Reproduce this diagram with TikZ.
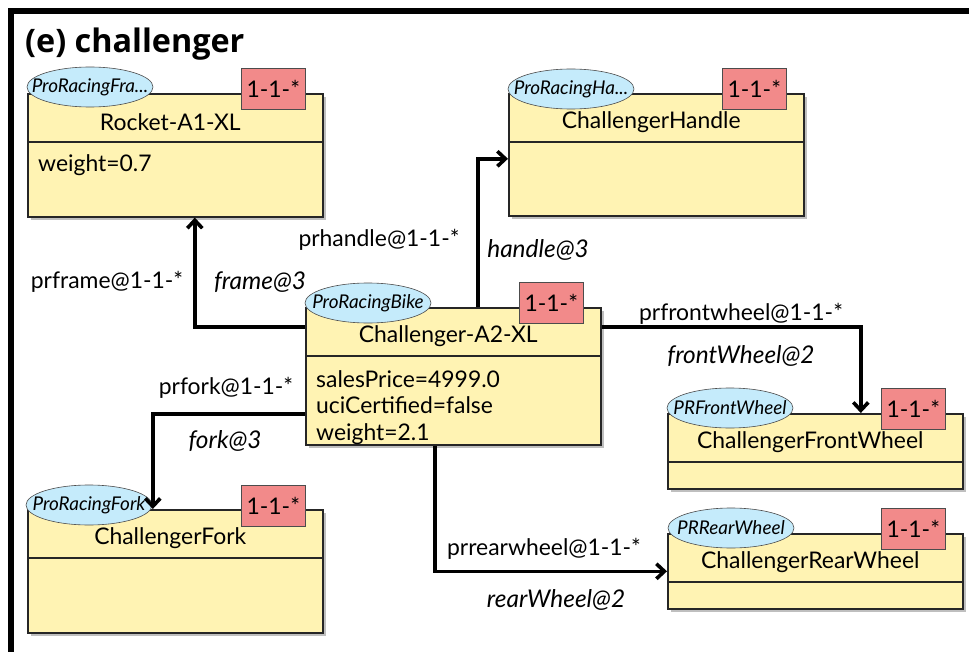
\documentclass[tikz,border=0pt]{standalone}
\usepackage{fontspec}
\setmainfont{Lato}
\newfontfamily\titlefont{Open Sans}
\usetikzlibrary{shapes.geometric, arrows.meta, positioning, calc, shadows}
\definecolor{clsfill}{HTML}{FFF3B3}
\definecolor{stereofill}{HTML}{C5EBFB}
\definecolor{badgefill}{HTML}{F28A8A}

\begin{document}
\begin{tikzpicture}[
    x=1bp, y=-1bp,
    font=\fontsize{23}{26}\selectfont,
    cls/.style={rectangle, draw=black!85, fill=clsfill, line width=1.6bp, anchor=north west, inner sep=0pt,
        minimum width=295bp, minimum height=#1,
        drop shadow={shadow xshift=3bp, shadow yshift=-3bp, opacity=0.25, fill=black}},
    clsname/.style={inner sep=0pt, below=29bp of #1.north, anchor=center, xshift=-5bp},
    divline/.style={line width=1.6bp, black!85},
    attr/.style={anchor=base west, align=left, inner sep=0pt, font=\fontsize{23}{26.5}\selectfont},
    stereo/.style={ellipse, draw=black!70, fill=stereofill, line width=0.6bp, minimum width=126bp, minimum height=40bp,
        inner sep=0pt, font=\fontsize{19}{21}\selectfont\itshape,
        execute at begin node={\hbox to 0pt\bgroup\hss}, execute at end node={\hss\egroup}},
    badge/.style={rectangle, draw=black!70, fill=badgefill, line width=0.6bp, anchor=north west,
        minimum width=64bp, minimum height=41bp, inner sep=0pt, font=\fontsize{23}{26}\selectfont},
    conn/.style={line width=3.6bp, -{Straight Barb[length=8bp,width=15bp]}},
    lbl/.style={inner sep=0pt},
    role/.style={inner sep=0pt, font=\fontsize{24.5}{27}\selectfont\itshape},
]
    \useasboundingbox (0,0) rectangle (969,652);
    \clip (0,0) rectangle (969,652);
    \fill[white] (0,0) rectangle (969,652);

    % frame and title
    \draw[line width=6bp] (11,11) rectangle (1100,800);
    \node[anchor=base west, inner sep=0pt, font=\titlefont\fontsize{32.5}{36}\selectfont\bfseries] (title) at (25,53) {(e) challenger};

    % classes
    \node[cls=123bp] (rocket) at (27,93) {};
    \node[cls=122bp] (handle) at (508,93) {};
    \node[cls=137bp] (bike) at (305,307) {};
    \node[cls=75bp] (front) at (667,413) {};
    \node[cls=75bp] (rear) at (667,533) {};
    \node[cls=123bp] (fork) at (27,509) {};

    \foreach \c in {rocket, handle, bike, front, rear, fork}
        \draw[divline] ([yshift=-49bp]\c.north west) -- ([yshift=-49bp]\c.north east);

    \node[clsname=rocket] (rocketname) {Rocket-A1-XL};
    \node[clsname=handle] (handlename) {ChallengerHandle};
    \node[clsname=bike] (bikename) {Challenger-A2-XL};
    \node[clsname=front] (frontname) {ChallengerFrontWheel};
    \node[clsname=rear] (rearname) {ChallengerRearWheel};
    \node[clsname=fork] (forkname) {ChallengerFork};

    \node[attr] (rocketattr) at (38,172) {weight=0.7};
    \node[attr] (bikeattr) at (316,440) {salesPrice=4999.0\\uciCertified=false\\weight=2.1};

    % stereotypes
    \node[stereo] (rocketst) at (90,87) {ProRacingFra...};
    \node[stereo] (handlest) at (571,89) {ProRacingHa...};
    \node[stereo] (bikest) at (368,303) {ProRacingBike};
    \node[stereo] (frontst) at (730,408) {PRFrontWheel};
    \node[stereo] (rearst) at (731,528) {PRRearWheel};
    \node[stereo] (forkst) at (89,505) {ProRacingFork};

    % multiplicities
    \node[badge] (rocketmul) at (241,68) {1-1-*};
    \node[badge] (handlemul) at (722,68) {1-1-*};
    \node[badge] (bikemul) at (519,282) {1-1-*};
    \node[badge] (frontmul) at (881,388) {1-1-*};
    \node[badge] (rearmul) at (881,508) {1-1-*};
    \node[badge] (forkmul) at (241,485) {1-1-*};

    % references
    \draw[conn] ([yshift=-20bp]bike.north west) -| ([xshift=19.5bp]rocket.south);
    \draw[conn] ([xshift=24.5bp]bike.north) |- ([yshift=-4bp]handle.west);
    \draw[conn] ([yshift=-20bp]bike.north east) -| ([xshift=45.5bp]front.north);
    \draw[conn] ([yshift=-107bp]bike.north west) -| ([xshift=-22.5bp]fork.north);
    \draw[conn] ([xshift=-18.5bp]bike.south) |- (rear.west);

    \node[lbl] (framelbl) at (107,282) {prframe@1-1-*};
    \node[role] (framerole) at (260,282) {frame@3};
    \node[lbl] (handlelbl) at (379,240) {prhandle@1-1-*};
    \node[role] (handlerole) at (538,250) {handle@3};
    \node[lbl] (frontlbl) at (741,314) {prfrontwheel@1-1-*};
    \node[role] (frontrole) at (741,356) {frontWheel@2};
    \node[lbl] (forklbl) at (226,388) {prfork@1-1-*};
    \node[role] (forkrole) at (225,441) {fork@3};
    \node[lbl] (rearlbl) at (544,549) {prrearwheel@1-1-*};
    \node[role] (rearrole) at (556,600) {rearWheel@2};
\end{tikzpicture}
\end{document}
